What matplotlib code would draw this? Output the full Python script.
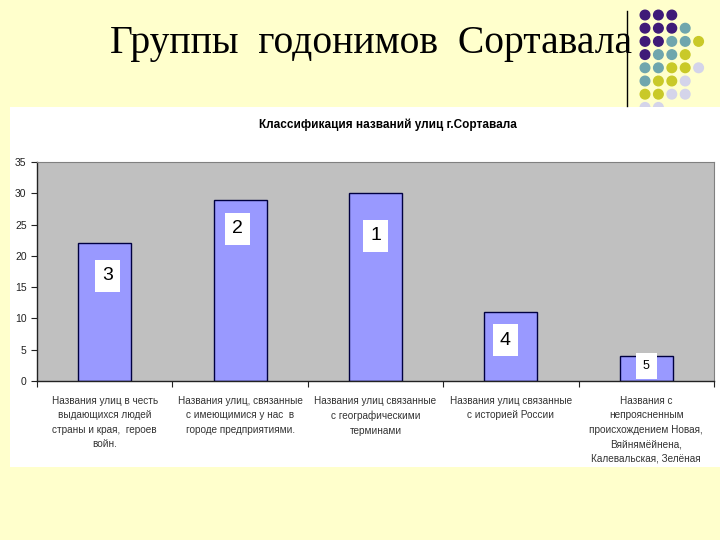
import numpy as np
import matplotlib
matplotlib.use('Agg')
import matplotlib.pyplot as plt
from matplotlib.patches import Rectangle, Ellipse

slide_title = 'Группы  годонимов  Сортавала'
chart_title = 'Классификация названий улиц г.Сортавала'

categories = [
    'Названия улиц в честь\nвыдающихся людей\nстраны и края,  героев\nвойн.',
    'Названия улиц, связанные\nс имеющимися у нас  в\nгороде предприятиями.',
    'Названия улиц связанные\nс географическими\nтерминами',
    'Названия улиц связанные\nс историей России',
    'Названия с\nнепроясненным\nпроисхождением Новая,\nВяйнямёйнена,\nКалевальская, Зелёная',
]
counts = [22, 29, 30, 11, 4]
ranks = ['3', '2', '1', '4', '5']

# decorative dots, one string per row: P purple, T teal, Y yellow, L lilac
dot_rows = ['PPP', 'PPPT', 'PPTTY', 'PTTY', 'TTYYL', 'TYYL', 'YYLL', 'LL']
dot_colors = {'P': '#3f1a78', 'T': '#6fa6ad', 'Y': '#c9c928', 'L': '#d4d4ea'}

W, H = 720, 540
fig = plt.figure(figsize=(7.2, 5.4), dpi=100)
fig.patch.set_facecolor('#ffffcc')

def fx(px):
    return px / W

def fy(py):
    return 1 - py / H

# slide title
fig.text(fx(371), fy(43), slide_title, ha='center', va='center',
         family='Liberation Serif', fontsize=28.5, color='black')

# vertical rule and dots
fig.add_artist(plt.Line2D([fx(627), fx(627)], [fy(11), fy(106)],
                          color='black', lw=1.0))
for r, row in enumerate(dot_rows):
    for c, ch in enumerate(row):
        cx, cy = 645 + 13.4 * c, 15 + 13.2 * r
        fig.add_artist(Ellipse((fx(cx), fy(cy)), 9.6 / W, 9.6 / H,
                               color=dot_colors[ch], transform=fig.transFigure,
                               zorder=-6))

# white chart picture
fig.add_artist(Rectangle((fx(10), fy(467)), fx(710), 360 / H,
                         facecolor='white', edgecolor='none',
                         transform=fig.transFigure, zorder=-5))

fig.text(fx(388), fy(125), chart_title, ha='center', va='center',
         family='Liberation Sans', fontsize=8.5, fontweight='bold')

ax = fig.add_axes([fx(37), fy(381), fx(677), 219 / H])
ax.set_zorder(2)
ax.set_facecolor('#c0c0c0')
x = np.arange(len(counts))
ax.bar(x, counts, width=0.39, color='#9999ff', edgecolor='#000040', lw=1.0,
       zorder=2)
ax.set_xlim(-0.5, len(counts) - 0.5)
ax.set_ylim(0, 35)
ax.set_yticks(np.arange(0, 36, 5))
ax.set_xticks(np.arange(-0.5, len(counts), 1.0))
ax.set_xticklabels([])
ax.tick_params(axis='both', direction='out', length=4, width=0.8,
               labelsize=7.5, colors='#222222')
for lab in ax.get_yticklabels():
    lab.set_family('Liberation Sans')
for s in ['top', 'right']:
    ax.spines[s].set_color('#808080')
    ax.spines[s].set_linewidth(0.8)
for s in ['left', 'bottom']:
    ax.spines[s].set_color('#222222')
    ax.spines[s].set_linewidth(1.0)

for i, name in enumerate(categories):
    ax.text(i, -2.4, name, ha='center', va='top', fontsize=7.2,
            family='Liberation Sans', color='#333333', linespacing=1.55,
            clip_on=False)

# rank boxes
label_y = [16.8, 24.3, 23.2, 6.5, 2.4]
label_dx = [0.02, -0.02, 0.0, -0.04, 0.0]
for i, rk in enumerate(ranks):
    fs = 14 if rk != '5' else 9
    pad = 0.38 if rk != '5' else 0.55
    ax.text(i + label_dx[i], label_y[i], rk, ha='center', va='center',
            fontsize=fs, family='Liberation Sans', zorder=3,
            bbox=dict(boxstyle='square,pad=%.2f' % pad, facecolor='white',
                      edgecolor='none'))

fig.savefig('out.png', dpi=100, facecolor=fig.get_facecolor())
